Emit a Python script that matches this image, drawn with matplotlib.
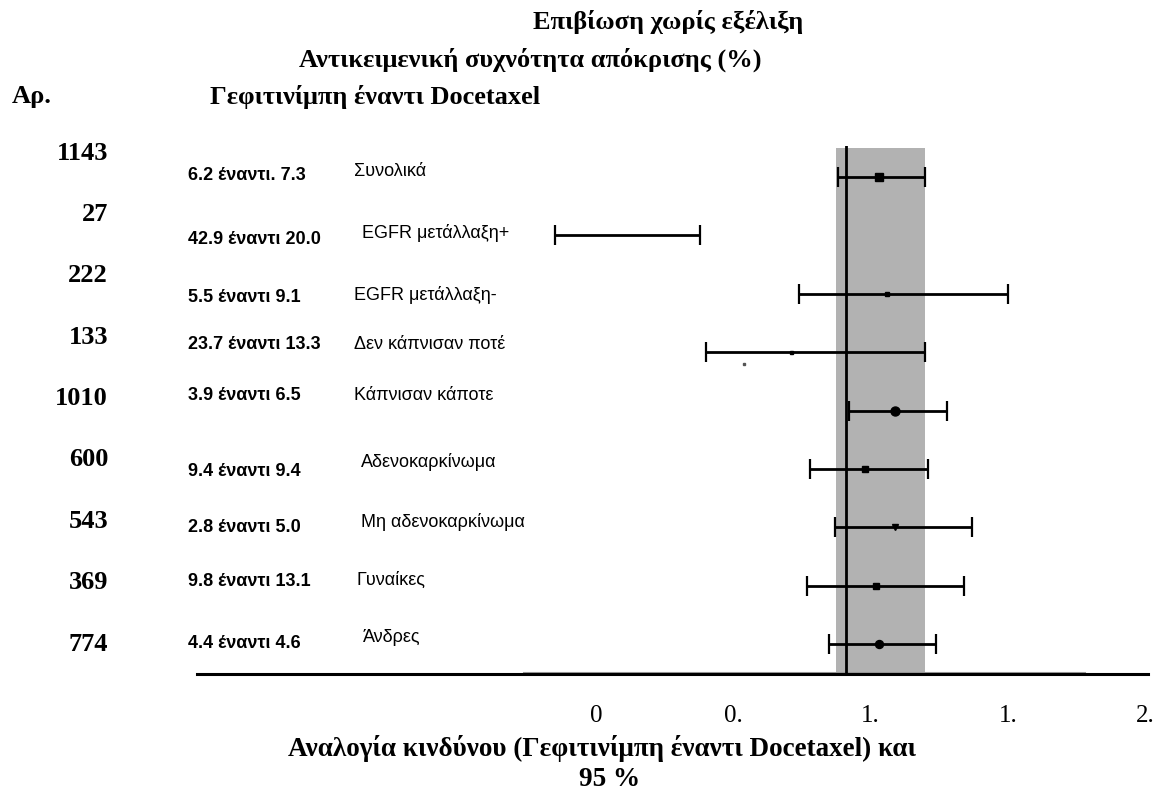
import numpy as np
import matplotlib.pyplot as plt

# --- data ------------------------------------------------------------------
n_patients = ["1143", "27", "222", "133", "1010", "600", "543", "369", "774"]
orr_text = ["6.2 έναντι. 7.3", "42.9 έναντι 20.0", "5.5 έναντι 9.1",
            "23.7 έναντι 13.3", "3.9 έναντι 6.5", "9.4 έναντι 9.4",
            "2.8 έναντι 5.0", "9.8 έναντι 13.1", "4.4 έναντι 4.6"]
subgroups = ["Συνολικά", "EGFR μετάλλαξη+", "EGFR μετάλλαξη-",
             "Δεν κάπνισαν ποτέ", "Κάπνισαν κάποτε", "Αδενοκαρκίνωμα",
             "Μη αδενοκαρκίνωμα", "Γυναίκες", "Άνδρες"]
hr = [1.03, np.nan, 1.06, 0.71, 1.09, 0.98, 1.09, 1.02, 1.03]
ci_low = [0.88, -0.15, 0.74, 0.40, 0.92, 0.78, 0.87, 0.77, 0.85]
ci_high = [1.20, 0.38, 1.50, 1.20, 1.28, 1.21, 1.37, 1.34, 1.24]
ref_line = 0.91
band = (0.875, 1.20)
xticks = [0, 0.5, 1.0, 1.5, 2.0]
xticklabels = ["0", "0.", "1.", "1.", "2."]

# --- layout (pixels of the 1166x792 canvas) ---------------------------------
W, H = 1166, 792
marker_style = ["s", "s", "s", "s", "o", "s", "v", "s", "o"]
marker_px = [8, 0, 5, 3, 9, 6, 6, 6, 8]
orr_y = [175, 240, 297, 345, 395, 472, 528, 582, 643]
lab_x = [354, 362, 354, 354, 354, 361, 361, 356, 363]
lab_y = [172, 233, 295, 345, 395, 462, 522, 580, 638]

SERIF = "Liberation Serif"
SANS = "Liberation Sans"


def fx(px):
    return px / W


def fy(py):
    return 1 - py / H


def main():
    fig = plt.figure(figsize=(W / 100, H / 100), dpi=100)

    # forest plot area: x 197..1148 px, y 146..674 px
    ax = fig.add_axes([fx(197), fy(674), fx(1148) - fx(197), (674 - 146) / H])
    px_per_unit = 274.5
    ax.set_xlim((197 - 596) / px_per_unit, (1148 - 596) / px_per_unit)
    row_px = 58.375
    ax.set_ylim((674 - 177) / row_px, (146 - 177) / row_px)

    ax.axvspan(band[0], band[1], ymin=0, ymax=(674 - 148) / (674 - 146),
               color="#b2b2b2", lw=0, zorder=0)
    ax.axvline(ref_line, color="black", lw=2, zorder=2)

    rows = np.arange(len(hr))
    for i in rows:
        ax.errorbar([(ci_low[i] + ci_high[i]) / 2], [i],
                    xerr=[[(ci_high[i] - ci_low[i]) / 2]],
                    fmt="none", ecolor="black", elinewidth=2,
                    capsize=7, capthick=1.6, zorder=3)
        if not np.isnan(hr[i]):
            ax.plot(hr[i], i, marker=marker_style[i], color="black",
                    markersize=marker_px[i] * 0.72, zorder=4)
    # stray dot under "never smoked"
    ax.plot(0.54, 3.2, marker="s", color="#555555", markersize=1.5, zorder=4)

    for s in ["top", "right", "left"]:
        ax.spines[s].set_visible(False)
    ax.spines["bottom"].set_linewidth(2.2)
    ax.axhline(ax.get_ylim()[0] - 0.02, xmin=(524 - 197) / 951,
               xmax=(1085 - 197) / 951, color="#9a9a9a", lw=1.5, zorder=1)
    ax.set_yticks([])
    ax.set_xticks(xticks)
    ax.set_xticklabels(xticklabels, family=SERIF, fontsize=18)
    ax.tick_params(axis="x", length=0, pad=22)
    ax.patch.set_alpha(0)

    # headers
    bold_serif = dict(family=SERIF, fontweight="bold", fontsize=19)
    fig.text(fx(668), fy(22), "Επιβίωση χωρίς εξέλιξη", ha="center",
             va="center", **bold_serif)
    fig.text(fx(530), fy(60), "Αντικειμενική συχνότητα απόκρισης (%)",
             ha="center", va="center", **bold_serif)
    fig.text(fx(12), fy(97), "Αρ.", ha="left", va="center", **bold_serif)
    fig.text(fx(210), fy(97), "Γεφιτινίμπη έναντι Docetaxel", ha="left",
             va="center", **bold_serif)

    # table columns
    for i in rows:
        fig.text(fx(108), fy(153 + 61.4 * i), n_patients[i], ha="right",
                 va="center", family=SERIF, fontweight="bold", fontsize=19)
        fig.text(fx(188), fy(orr_y[i]), orr_text[i], ha="left", va="center",
                 family=SANS, fontweight="bold", fontsize=13)
        fig.text(fx(lab_x[i]), fy(lab_y[i]), subgroups[i], ha="left",
                 va="center", family=SANS, fontsize=13)

    # x label
    fig.text(fx(602), fy(748), "Αναλογία κινδύνου (Γεφιτινίμπη έναντι Docetaxel) και",
             ha="center", va="center", family=SERIF, fontweight="bold",
             fontsize=19.5)
    fig.text(fx(610), fy(779), "95 %", ha="center", va="center",
             family=SERIF, fontweight="bold", fontsize=19.5)

    fig.savefig("out.png", dpi=100)


if __name__ == "__main__":
    main()
